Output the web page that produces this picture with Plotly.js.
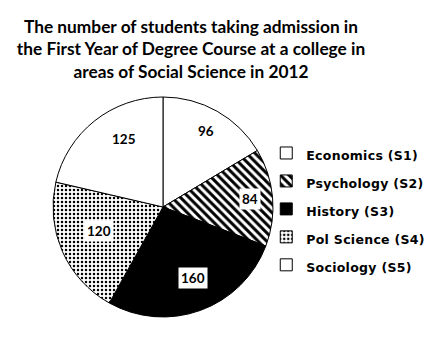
<!DOCTYPE html>
<html>
<head>
<meta charset="utf-8">
<script src="https://cdn.plot.ly/plotly-3.0.1.min.js"></script>
<style>html,body{margin:0;padding:0;background:#fff}</style>
</head>
<body>
<div id="chart" style="width:426px;height:358px"></div>
<script>
// Data
const subjects = ['Economics (S1)', 'Psychology (S2)', 'History (S3)', 'Pol Science (S4)', 'Sociology (S5)'];
const students = [96, 84, 160, 120, 125];
const sliceColors = ['#ffffff', '#ffffff', '#000000', '#ffffff', '#ffffff'];
const sliceShapes = ['', '\\', '', '.', ''];
const titleLines = [
  'The number of students taking admission in',
  'the First Year of Degree Course at a college in',
  'areas of Social Science in 2012'
];

const W = 426, H = 358;
const dom = {x: [0.1244, 0.6408], y: [0.1145, 0.7291]};
const FONT = 'Lato, "Open Sans", sans-serif';

// Label annotations computed from the data and the pie domain
const total = students.reduce((a, b) => a + b, 0);
const cx = (dom.x[0] + dom.x[1]) / 2, cy = (dom.y[0] + dom.y[1]) / 2;
const Rpx = Math.min((dom.x[1] - dom.x[0]) * W, (dom.y[1] - dom.y[0]) * H) / 2;
let cum = 0;
const annotations = students.map((v) => {
  const mid = (cum + v / 2) / total * 2 * Math.PI;
  cum += v;
  const r = 0.79 * Rpx;
  return {
    x: cx + r * Math.sin(mid) / W,
    y: cy + r * Math.cos(mid) / H,
    xref: 'paper', yref: 'paper',
    text: String(v), showarrow: false,
    bgcolor: '#ffffff', borderpad: 2,
    font: {family: FONT, size: 13.5, color: '#000', weight: 'bold'}
  };
});

const trace = {
  type: 'pie',
  labels: subjects.map(s => '<span style="font-size:12.5px;letter-spacing:0.3px">' + s + '</span>'),
  values: students,
  sort: false,
  direction: 'clockwise',
  rotation: 0,
  textinfo: 'none',
  hoverinfo: 'label+value',
  domain: dom,
  marker: {
    colors: sliceColors,
    line: {color: '#000', width: 1},
    pattern: {shape: sliceShapes, fgcolor: '#000', bgcolor: '#fff', size: [8, 6, 8, 4, 8], solidity: [0.3, 0.5, 0.3, 0.3, 0.3]}
  }
};

const layout = {
  width: W, height: H,
  margin: {l: 0, r: 0, t: 0, b: 0, autoexpand: false},
  paper_bgcolor: '#fff', plot_bgcolor: '#fff',
  title: {
    text: titleLines.join('<br>'),
    x: 191 / W, xanchor: 'center', xref: 'container',
    y: 1 - 33 / H, yanchor: 'top', yref: 'container',
    font: {family: FONT, size: 17.3, color: '#000', weight: 'bold'}
  },
  showlegend: true,
  legend: {
    x: 0.625, xanchor: 'left', y: 1 - 134 / H, yanchor: 'top',
    font: {family: '"DejaVu Sans", sans-serif', size: 19.2, color: '#000', weight: 'bold'},
    bgcolor: 'rgba(0,0,0,0)', traceorder: 'normal'
  },
  annotations: annotations
};

Plotly.newPlot('chart', [trace], layout, {displayModeBar: false, staticPlot: true});
</script>
</body>
</html>
